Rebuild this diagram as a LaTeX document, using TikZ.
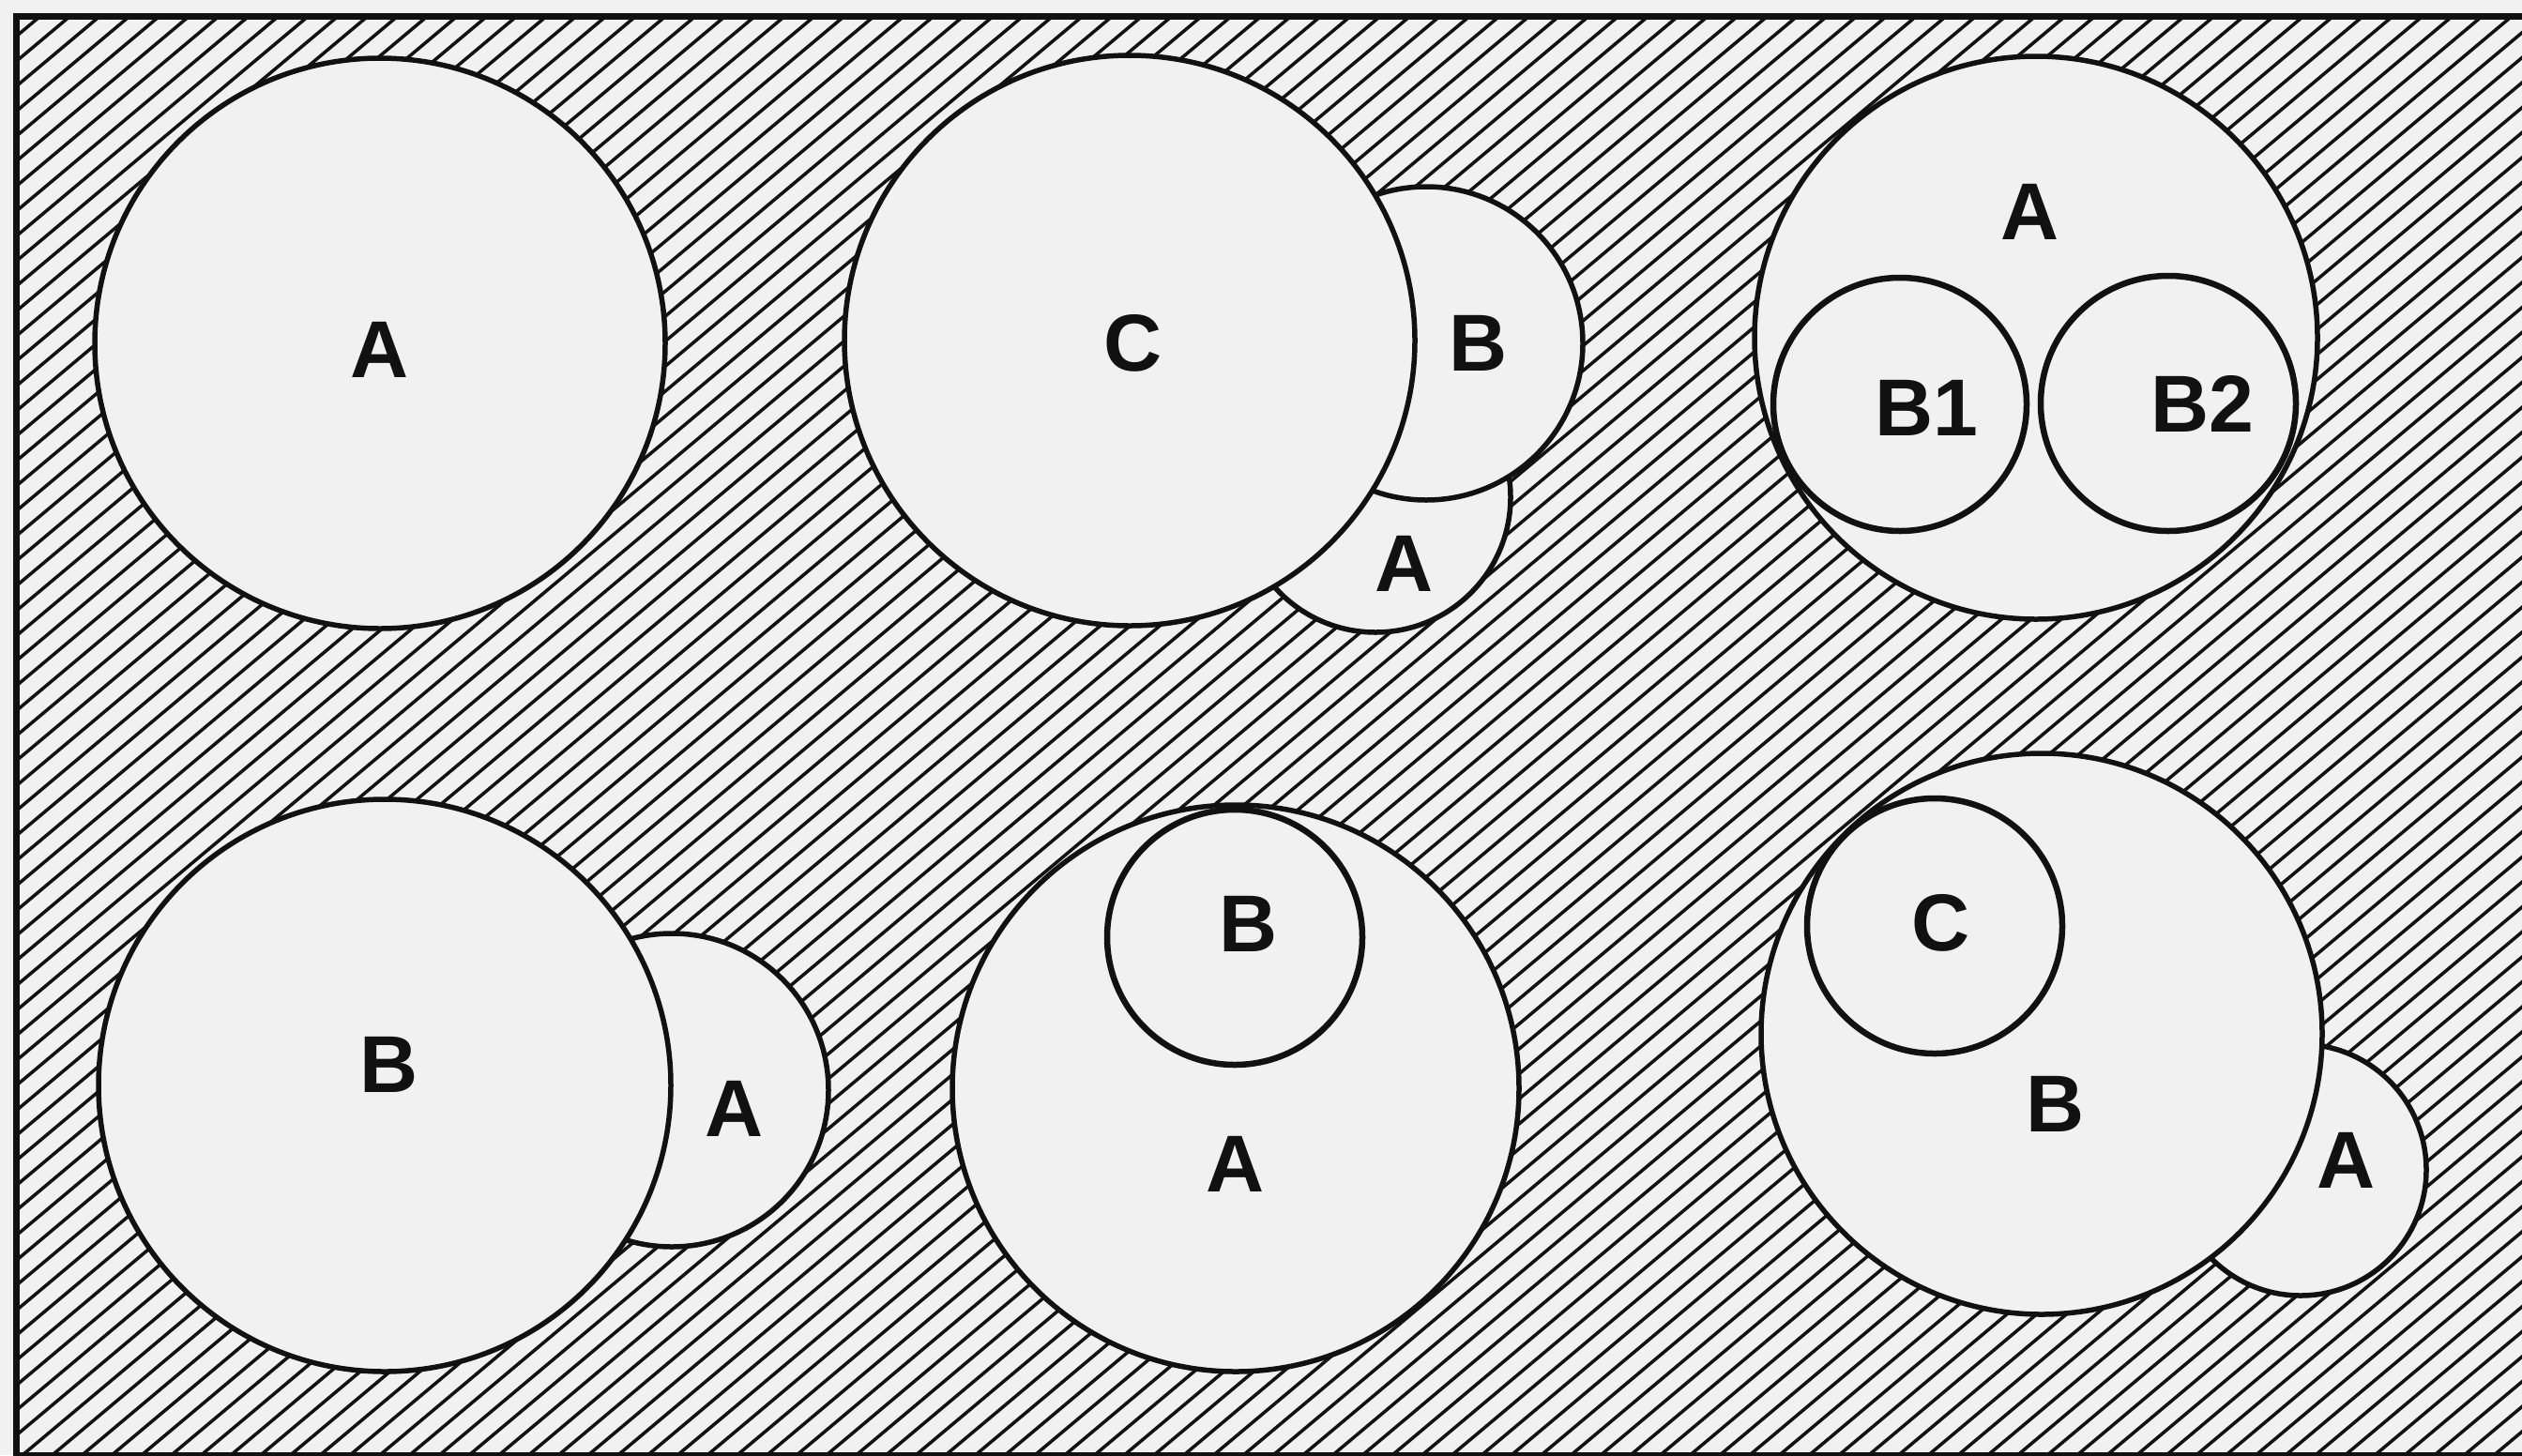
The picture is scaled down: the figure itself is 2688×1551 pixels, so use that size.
\documentclass[tikz,border=0pt]{standalone}
\usepackage{fontspec}
\setmainfont{Liberation Sans}
\definecolor{paper}{HTML}{F1F1F1}
\definecolor{ink}{HTML}{111111}
\begin{document}
\begin{tikzpicture}[x=1pt,y=-1pt,
  ring/.style={circle,draw=ink,fill=paper,line width=5.5pt,inner sep=0pt},
  inring/.style={ring,line width=6.5pt},
  lab/.style={inner sep=0pt,text=ink,font=\fontsize{86}{86}\selectfont\bfseries},
  hatch/.style={line width=3.5pt,draw=ink},
  frame/.style={line width=7pt,draw=ink}]
\useasboundingbox (0,0) rectangle (2688,1551);
\fill[paper] (0,0) rectangle (2688,1551);
% hatched background
\begin{scope}
\clip (17,17) rectangle (2688,1551);
\foreach \i in {0,...,146}{
  \pgfmathsetmacro\c{\i*20.4}
  \draw[hatch] ({\c*0.6428-2298},{\c*0.7660+1928}) -- ({\c*0.6428+2298},{\c*0.7660-1928});
}
\end{scope}
\draw[frame] (2700,17) -- (17,17) -- (17,1551) -- (2700,1551);

% top left
\node[ring,minimum size=608pt] (tlA) at (405,366) {};
\node[lab] (tlAl) at (405,373) {A};

% top middle
\node[ring,minimum size=288pt] (tmA) at (1466,530) {};
\node[ring,minimum size=334pt] (tmB) at (1520,366) {};
\node[ring,minimum size=608pt] (tmC) at (1204,363) {};
\node[lab] (tmCl) at (1208,366) {C};
\node[lab] (tmBl) at (1576,366) {B};
\node[lab] (tmAl) at (1497,601) {A};

% top right
\node[ring,minimum size=600pt] (trA) at (2170,360) {};
\node[inring,minimum size=270pt] (trB1) at (2025,431) {};
\node[inring,minimum size=272pt] (trB2) at (2311,430) {};
\node[lab] (trAl) at (2164,226) {A};
\node[lab] (trB1l) at (2053,435) {B1};
\node[lab] (trB2l) at (2347,430) {B2};

% bottom left
\node[ring,minimum size=334pt] (blA) at (716,1162) {};
\node[ring,minimum size=610pt] (blB) at (410,1157) {};
\node[lab] (blBl) at (415,1135) {B};
\node[lab] (blAl) at (783,1182) {A};

% bottom middle
\node[ring,minimum size=604pt] (bmA) at (1317,1160) {};
\node[inring,minimum size=272pt] (bmB) at (1316,999) {};
\node[lab] (bmBl) at (1331,985) {B};
\node[lab] (bmAl) at (1317,1241) {A};

% bottom right
\node[ring,minimum size=268pt] (brA) at (2452,1247) {};
\node[ring,minimum size=598pt] (brB) at (2176,1102) {};
\node[inring,minimum size=272pt] (brC) at (2062,987) {};
\node[lab] (brCl) at (2069,984) {C};
\node[lab] (brBl) at (2191,1177) {B};
\node[lab] (brAl) at (2501,1237) {A};
\end{tikzpicture}
\end{document}
